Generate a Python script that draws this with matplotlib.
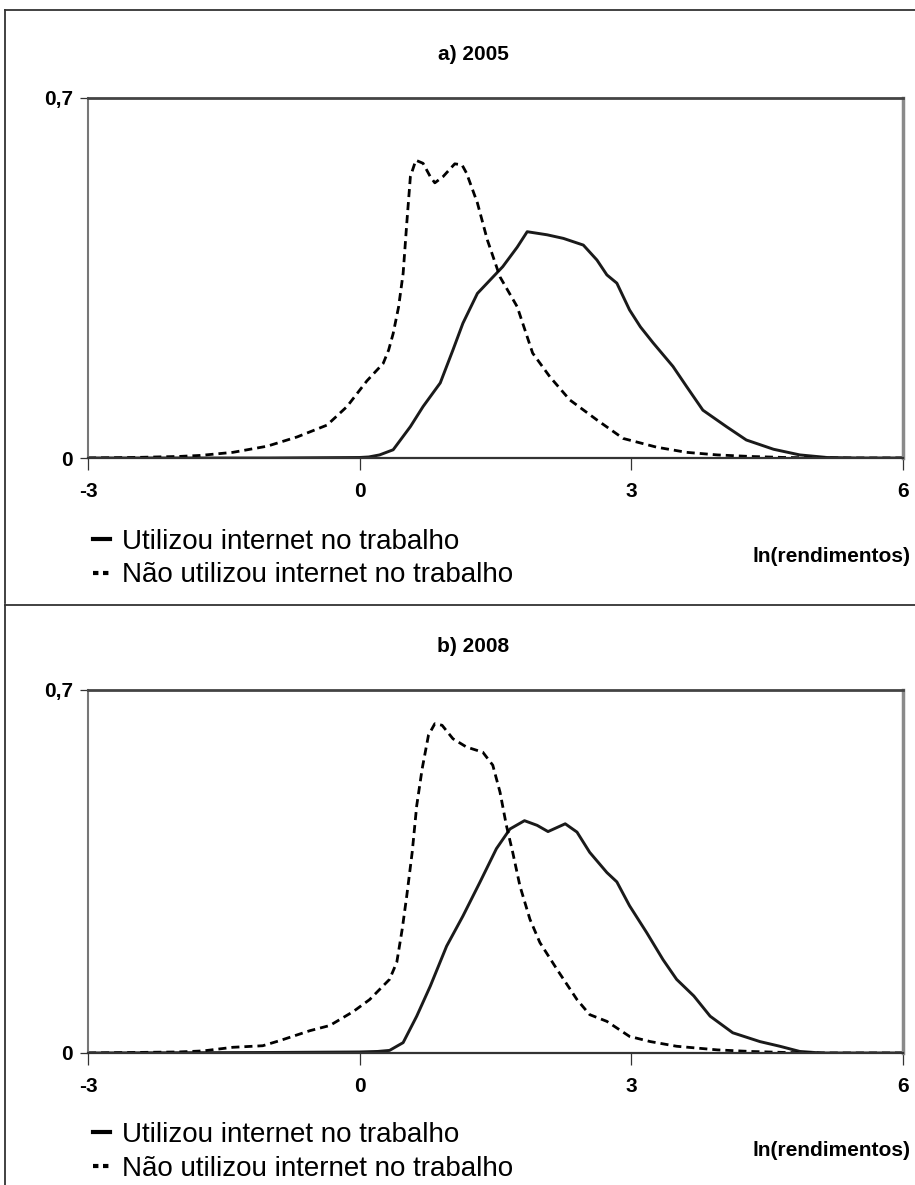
import matplotlib
matplotlib.use("Agg")
import matplotlib.pyplot as plt
from matplotlib.lines import Line2D

# ---------------- data ----------------
x_usou_2005 = [-3, -1, 0, 0.1, 0.22, 0.37, 0.56, 0.70, 0.89, 1.03, 1.14, 1.30, 1.44, 1.58, 1.74, 1.85,
               2.07, 2.25, 2.47, 2.62, 2.73, 2.84, 2.98, 3.10, 3.24, 3.46, 3.61, 3.79, 4.05, 4.27, 4.57,
               4.86, 5.16, 5.5, 6]
y_usou_2005 = [0, 0, 0.001, 0.002, 0.006, 0.016, 0.061, 0.10, 0.146, 0.21, 0.262, 0.32, 0.346, 0.372,
               0.41, 0.44, 0.434, 0.427, 0.414, 0.385, 0.356, 0.34, 0.288, 0.255, 0.224, 0.178, 0.139,
               0.093, 0.061, 0.035, 0.017, 0.006, 0.001, 0, 0]

x_nao_2005 = [-3, -2.5, -2, -1.76, -1.4, -1.02, -0.69, -0.36, -0.14, 0.08, 0.26, 0.32, 0.37, 0.43, 0.48,
              0.52, 0.56, 0.62, 0.70, 0.78, 0.83, 0.92, 1.05, 1.13, 1.18, 1.30, 1.41, 1.55, 1.74, 1.91,
              2.10, 2.32, 2.62, 2.91, 3.28, 3.61, 3.95, 4.31, 4.7, 5.2, 6]
y_nao_2005 = [0, 0.001, 0.003, 0.005, 0.011, 0.023, 0.041, 0.064, 0.10, 0.15, 0.184, 0.21, 0.242, 0.294,
              0.359, 0.456, 0.547, 0.579, 0.573, 0.547, 0.535, 0.547, 0.572, 0.570, 0.554, 0.496, 0.424,
              0.352, 0.294, 0.204, 0.158, 0.113, 0.074, 0.038, 0.021, 0.011, 0.006, 0.003, 0.001, 0, 0]

x_usou_2008 = [-3, -1, 0, 0.2, 0.33, 0.48, 0.63, 0.78, 0.96, 1.14, 1.33, 1.51, 1.66, 1.82, 1.96, 2.08,
               2.27, 2.40, 2.54, 2.73, 2.84, 2.98, 3.17, 3.35, 3.50, 3.69, 3.87, 4.12, 4.42, 4.64, 4.86,
               5.1, 6]
y_usou_2008 = [0, 0.001, 0.002, 0.003, 0.005, 0.02, 0.071, 0.129, 0.206, 0.264, 0.33, 0.394, 0.432,
               0.448, 0.439, 0.427, 0.442, 0.426, 0.387, 0.348, 0.33, 0.284, 0.232, 0.18, 0.142, 0.11,
               0.071, 0.039, 0.022, 0.013, 0.003, 0.0, 0]

x_nao_2008 = [-3, -2.5, -2, -1.73, -1.4, -1.07, -0.88, -0.55, -0.33, -0.07, 0.11, 0.33, 0.41, 0.47, 0.52,
              0.58, 0.63, 0.69, 0.76, 0.83, 0.91, 1.03, 1.18, 1.36, 1.47, 1.55, 1.62, 1.69, 1.77, 1.88,
              1.99, 2.18, 2.40, 2.54, 2.73, 2.98, 3.21, 3.50, 3.95, 4.31, 4.7, 5.2, 6]
y_nao_2008 = [0, 0.001, 0.002, 0.004, 0.011, 0.014, 0.024, 0.043, 0.053, 0.08, 0.103, 0.142, 0.175,
              0.239, 0.303, 0.387, 0.477, 0.548, 0.613, 0.635, 0.632, 0.606, 0.59, 0.58, 0.555, 0.503,
              0.439, 0.387, 0.322, 0.258, 0.213, 0.161, 0.103, 0.074, 0.061, 0.032, 0.022, 0.013,
              0.006, 0.003, 0.001, 0, 0]

titles = ["a) 2005", "b) 2008"]
x_ticks = [-3, 0, 3, 6]
x_tick_labels = ["-3", "0", "3", "6"]
y_ticks = [0, 0.7]
y_tick_labels = ["0", "0,7"]
label_usou = "Utilizou internet no trabalho"
label_nao = "Não utilizou internet no trabalho"
x_label = "ln(rendimentos)"

# ---------------- figure ----------------
plt.rcParams['font.family'] = ['Liberation Sans', 'DejaVu Sans']
W, H = 915, 1185
fig = plt.figure(figsize=(W / 100, H / 100), dpi=100)

def fx(px):
    return px / W

def fy(py):
    return 1 - py / H

# panel frames
frame_kw = dict(color="#333333", linewidth=1.3, transform=fig.transFigure)
fig.add_artist(Line2D([fx(5), fx(5)], [fy(10), fy(603)], **frame_kw))
fig.add_artist(Line2D([fx(5), fx(916)], [fy(10), fy(10)], **frame_kw))
fig.add_artist(Line2D([fx(5), fx(5)], [fy(605), fy(1186)], **frame_kw))
fig.add_artist(Line2D([fx(5), fx(916)], [fy(605), fy(605)], **frame_kw))

panels = [
    dict(top=98, bottom=458, title_y=54, leg_y=529, xl_y=556,
         xs=(x_usou_2005, x_nao_2005), ys=(y_usou_2005, y_nao_2005)),
    dict(top=690, bottom=1053, title_y=646, leg_y=1122, xl_y=1150,
         xs=(x_usou_2008, x_nao_2008), ys=(y_usou_2008, y_nao_2008)),
]

left_px, right_px = 88, 903
for i, p in enumerate(panels):
    ax = fig.add_axes([fx(left_px), fy(p["bottom"]), fx(right_px - left_px),
                       (p["bottom"] - p["top"]) / H])
    ax.plot(p["xs"][0], p["ys"][0], color="#1a1a1a", linewidth=2.1,
            solid_joinstyle="round", solid_capstyle="round", label=label_usou)
    ax.plot(p["xs"][1], p["ys"][1], color="black", linewidth=2.0,
            dashes=(2.9, 1.8), label=label_nao)
    ax.set_xlim(-3, 6)
    ax.set_ylim(0, 0.7)
    ax.set_xticks(x_ticks)
    ax.set_xticklabels(x_tick_labels)
    ax.set_yticks(y_ticks)
    ax.set_yticklabels(y_tick_labels)
    ax.tick_params(axis="x", direction="out", length=8.5, width=0.9, pad=9,
                   labelsize=15, color="#333333")
    ax.tick_params(axis="y", direction="out", length=6, width=0.9, pad=5,
                   labelsize=15, color="#333333")
    for lab in ax.get_xticklabels() + ax.get_yticklabels():
        lab.set_fontweight("bold")
    ax.spines["top"].set_color("#444444")
    ax.spines["top"].set_linewidth(2.0)
    ax.spines["left"].set_color("#777777")
    ax.spines["left"].set_linewidth(1.5)
    ax.spines["right"].set_color("#8a8a8a")
    ax.spines["right"].set_linewidth(2.5)
    ax.spines["bottom"].set_color("#333333")
    ax.spines["bottom"].set_linewidth(1.6)

    fig.text(fx(473), fy(p["title_y"]), titles[i], ha="center", va="center",
             fontsize=15, fontweight="bold")
    fig.text(fx(910), fy(p["xl_y"]), x_label, ha="right", va="center",
             fontsize=15, fontweight="bold")

    h1 = Line2D([0], [0], color="black", linewidth=3)
    h2 = Line2D([0], [0], color="black", linewidth=3, dashes=(1.3, 1.1))
    ax.legend([h1, h2], [label_usou, label_nao], loc="upper left",
              bbox_to_anchor=(fx(93), fy(p["leg_y"])), bbox_transform=fig.transFigure,
              frameon=False, fontsize=20, handlelength=0.6, handletextpad=0.45,
              labelspacing=0.27, borderaxespad=0, borderpad=0)

fig.savefig("out.png", dpi=100)
